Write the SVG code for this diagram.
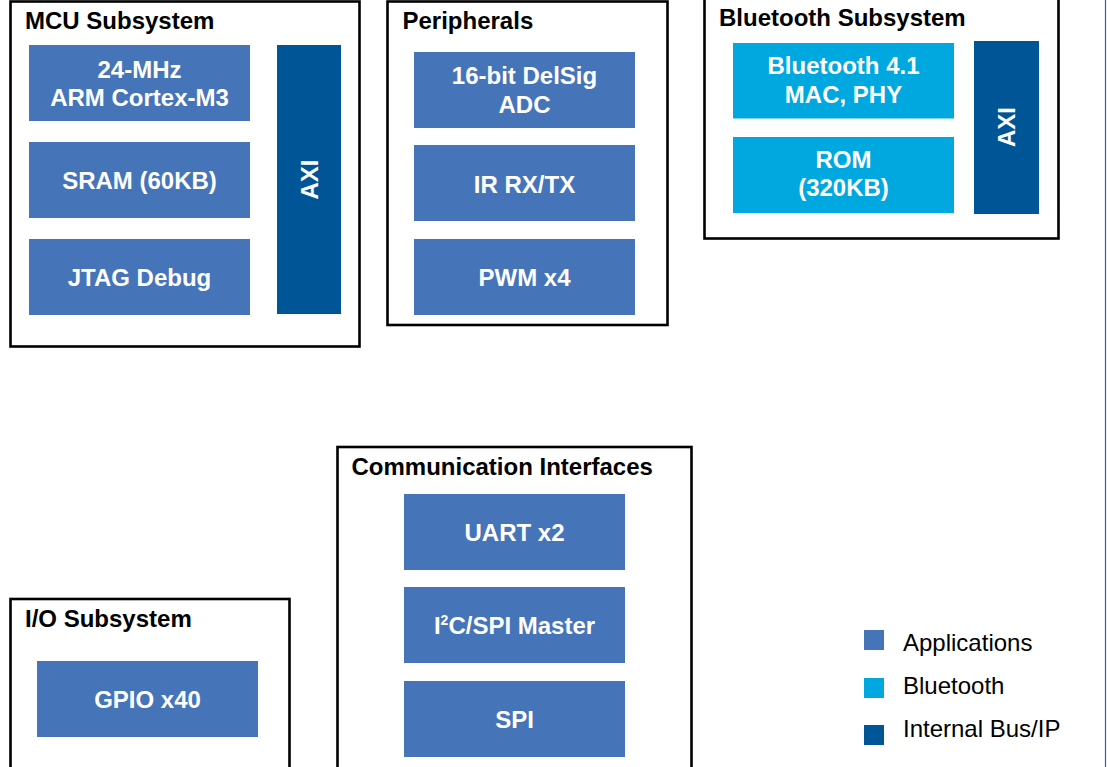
<svg xmlns="http://www.w3.org/2000/svg" width="1107" height="767" viewBox="0 0 1107 767">
<style>
.grp{fill:#ffffff;stroke:#000000;stroke-width:2.6}
.title{font-family:"Liberation Sans",Arial,sans-serif;font-weight:bold;font-size:24px;fill:#000000}
.lbl{font-family:"Liberation Sans",Arial,sans-serif;font-weight:bold;font-size:24px;fill:#ffffff;text-anchor:middle}
.app{fill:#4674b9}
.bt{fill:#00a8e0}
.bus{fill:#005596}
.leg{font-family:"Liberation Sans",Arial,sans-serif;font-size:24px;fill:#000000}
</style>
<rect x="0" y="0" width="1107" height="767" fill="#ffffff"/>
<line x1="1105.5" y1="0" x2="1105.5" y2="767" stroke="#2a62b0" stroke-width="1.2"/>

<g id="mcu-subsystem">
<rect class="grp" x="10.5" y="1.5" width="349" height="345"/>
<text class="title" x="25" y="29">MCU Subsystem</text>
</g>
<g id="cpu">
<rect class="app" x="29" y="45" width="221" height="76"/>
<text class="lbl" x="139.5" y="77.5">24-MHz</text>
<text class="lbl" x="139.5" y="106">ARM Cortex-M3</text>
</g>
<g id="sram">
<rect class="app" x="29" y="142" width="221" height="76"/>
<text class="lbl" x="139.5" y="189">SRAM (60KB)</text>
</g>
<g id="jtag">
<rect class="app" x="29" y="239" width="221" height="76"/>
<text class="lbl" x="139.5" y="286">JTAG Debug</text>
</g>
<g id="mcu-axi">
<rect class="bus" x="277" y="45" width="64" height="269"/>
<text class="lbl" transform="translate(317.5,179.5) rotate(-90)">AXI</text>
</g>

<g id="peripherals">
<rect class="grp" x="387.5" y="1.5" width="280" height="323.5"/>
<text class="title" x="402.5" y="28.5">Peripherals</text>
</g>
<g id="adc">
<rect class="app" x="414" y="52" width="221" height="76"/>
<text class="lbl" x="524.5" y="84">16-bit DelSig</text>
<text class="lbl" x="524.5" y="112.5">ADC</text>
</g>
<g id="ir">
<rect class="app" x="414" y="145" width="221" height="76"/>
<text class="lbl" x="524.5" y="192.5">IR RX/TX</text>
</g>
<g id="pwm">
<rect class="app" x="414" y="239" width="221" height="76"/>
<text class="lbl" x="524.5" y="286">PWM x4</text>
</g>

<g id="bluetooth-subsystem">
<rect class="grp" x="704.5" y="-2" width="354" height="240.5"/>
<text class="title" x="719" y="25.5">Bluetooth Subsystem</text>
</g>
<g id="bt-mac-phy">
<rect class="bt" x="733" y="43" width="221" height="75.5"/>
<text class="lbl" x="843.5" y="74">Bluetooth 4.1</text>
<text class="lbl" x="843.5" y="103">MAC, PHY</text>
</g>
<g id="rom">
<rect class="bt" x="733" y="137" width="221" height="76"/>
<text class="lbl" x="843.5" y="168">ROM</text>
<text class="lbl" x="843.5" y="195.5">(320KB)</text>
</g>
<g id="bt-axi">
<rect class="bus" x="974" y="41" width="65" height="173"/>
<text class="lbl" transform="translate(1014.5,127) rotate(-90)">AXI</text>
</g>

<g id="comm-interfaces">
<rect class="grp" x="337.5" y="447" width="354" height="330"/>
<text class="title" x="351.5" y="475">Communication Interfaces</text>
</g>
<g id="uart">
<rect class="app" x="404" y="494" width="221" height="76"/>
<text class="lbl" x="514.5" y="540.5">UART x2</text>
</g>
<g id="i2c-spi-master">
<rect class="app" x="404" y="587" width="221" height="76"/>
<text class="lbl" x="514.5" y="633.5">I<tspan font-size="14" dy="-9">2</tspan><tspan dy="9">C/SPI Master</tspan></text>
</g>
<g id="spi">
<rect class="app" x="404" y="681" width="221" height="76"/>
<text class="lbl" x="514.5" y="727.5">SPI</text>
</g>

<g id="io-subsystem">
<rect class="grp" x="10.5" y="599" width="279" height="200"/>
<text class="title" x="25" y="626.5">I/O Subsystem</text>
</g>
<g id="gpio">
<rect class="app" x="37" y="661" width="221" height="76"/>
<text class="lbl" x="147.5" y="707.5">GPIO x40</text>
</g>

<g id="legend">
<rect class="app" x="864" y="630" width="20" height="20"/>
<text class="leg" x="903" y="651">Applications</text>
<rect class="bt" x="864" y="678" width="20" height="20"/>
<text class="leg" x="903" y="694">Bluetooth</text>
<rect class="bus" x="864" y="725" width="20" height="20"/>
<text class="leg" x="903" y="737">Internal Bus/IP</text>
</g>
<g id="connectors"></g>
</svg>
